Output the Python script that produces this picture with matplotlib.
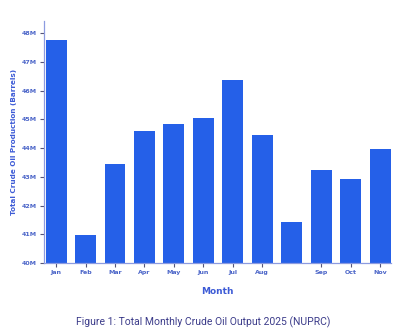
import matplotlib
matplotlib.use("Agg")
import matplotlib.pyplot as plt

months = ["Jan", "Feb", "Mar", "Apr", "May", "Jun", "Jul", "Aug", "", "Sep", "Oct", "Nov"]
production_m = [47.75, 40.96, 43.43, 44.58, 44.83, 45.05, 46.38, 44.47, 41.43, 43.25, 42.93, 43.98]
yticks = [40, 41, 42, 43, 44, 45, 46, 47, 48]
ytick_labels = ["40M", "41M", "42M", "43M", "44M", "45M", "46M", "47M", "48M"]

bar_color = "#2560e8"
axis_color = "#8c9be0"
label_color = "#3d5bd6"
tick_color = "#4a64c8"

fig = plt.figure(figsize=(4.06, 3.36), dpi=100)
ax = fig.add_axes([44/406, 1 - 263/336, (391-44)/406, (263-21)/336])

x = list(range(len(months)))
ax.bar(x, [v - 40 for v in production_m], bottom=40, width=0.71, color=bar_color, zorder=2)

ax.set_ylim(40, 48.42)
ax.set_xlim(-0.41, 11.37)
ax.set_yticks(yticks)
ax.set_yticklabels(ytick_labels)
tick_pos = [i for i, m in enumerate(months) if m]
ax.set_xticks(tick_pos)
ax.set_xticklabels([m for m in months if m])

for s in ["top", "right"]:
    ax.spines[s].set_visible(False)
for s in ["left", "bottom"]:
    ax.spines[s].set_color(axis_color)
    ax.spines[s].set_linewidth(0.9)

ax.tick_params(axis="both", length=3, width=0.8, color="#555577", labelsize=4.5,
               labelcolor=tick_color, pad=2)
for lab in ax.get_xticklabels() + ax.get_yticklabels():
    lab.set_fontweight("bold")

ax.set_ylabel("Total Crude Oil Production (Barrels)", fontsize=5.2, fontweight="bold",
              color=label_color, labelpad=14)
ax.yaxis.set_label_coords(-(44 - 14) / (391 - 44), 0.5)
ax.set_xlabel("Month", fontsize=6.5, fontweight="bold", color=label_color)
ax.xaxis.set_label_coords(0.5, -(291 - 263) / (263 - 21))
ax.xaxis.label.set_va("center")
ax.yaxis.label.set_va("center")

fig.text(0.5, 1 - 322/336, "Figure 1: Total Monthly Crude Oil Output 2025 (NUPRC)",
         ha="center", va="center", fontsize=7.5, color="#3c3c8a", family="Roboto")

fig.savefig("out.png", dpi=100)
